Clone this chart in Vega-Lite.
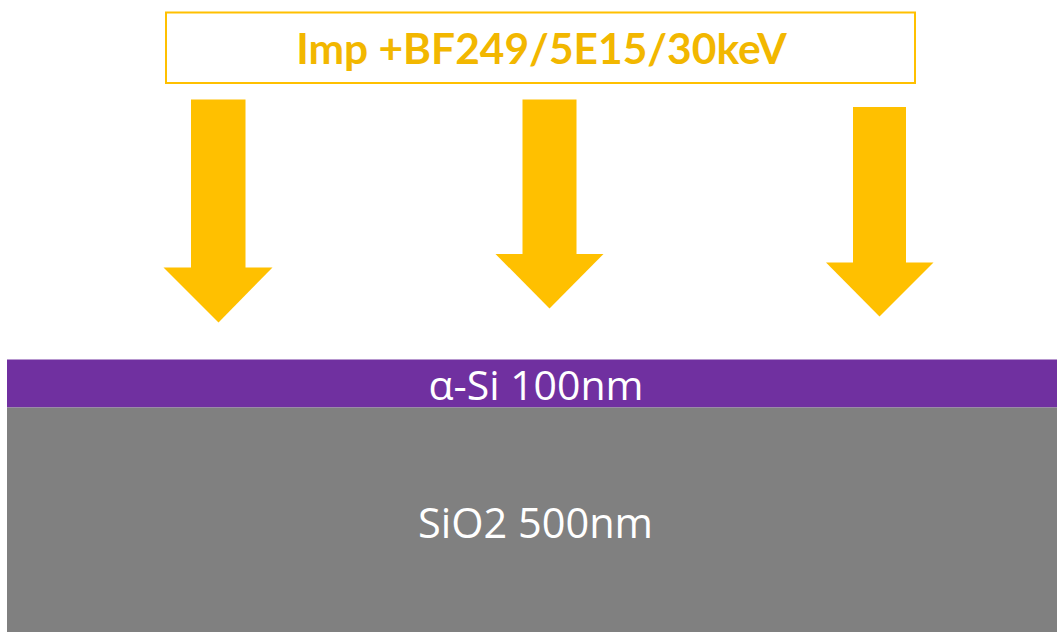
{
  "$schema": "https://vega.github.io/schema/vega-lite/v6.json",
  "width": 1057,
  "height": 632,
  "autosize": {"type": "fit", "contains": "padding"},
  "padding": 0,
  "background": "white",
  "config": {"view": {"stroke": null}},
  "datasets": {
    "layers": [
      {"name": "a-Si", "x": 7, "x2": 1057, "y": 359.5, "y2": 407.5},
      {"name": "SiO2", "x": 7, "x2": 1057, "y": 407.5, "y2": 632}
    ],
    "shafts": [
      {"arrow": "A", "x": 191, "x2": 245.5, "y": 99.5, "y2": 268},
      {"arrow": "B", "x": 522.5, "x2": 576.5, "y": 99.5, "y2": 255},
      {"arrow": "C", "x": 853, "x2": 906, "y": 107, "y2": 263}
    ],
    "heads": [
      {"arrow": "A", "x": 163.5, "y": 267.5, "y2": 267.5},
      {"arrow": "A", "x": 218.5, "y": 322.5, "y2": 267.5},
      {"arrow": "A", "x": 272.5, "y": 267.5, "y2": 267.5},
      {"arrow": "B", "x": 495.5, "y": 254, "y2": 254},
      {"arrow": "B", "x": 549.5, "y": 308.5, "y2": 254},
      {"arrow": "B", "x": 603.5, "y": 254, "y2": 254},
      {"arrow": "C", "x": 826, "y": 262.5, "y2": 262.5},
      {"arrow": "C", "x": 879.5, "y": 316.5, "y2": 262.5},
      {"arrow": "C", "x": 933.5, "y": 262.5, "y2": 262.5}
    ],
    "box": [
      {"label": "Imp +BF249/5E15/30keV", "x": 166, "x2": 915, "y": 12.5, "y2": 83, "tx": 541.5, "ty": 63.5}
    ],
    "labels": [
      {"label": "α-Si 100nm", "x": 536, "y": 400, "kind": "thin"},
      {"label": "SiO2 500nm", "x": 535.5, "y": 537.5, "kind": "thick"}
    ]
  },
  "layer": [
    {
      "data": {"name": "layers"},
      "mark": {"type": "rect"},
      "encoding": {
        "x": {"field": "x", "type": "quantitative", "scale": {"domain": [0, 1057], "nice": false, "zero": false}, "axis": null},
        "x2": {"field": "x2"},
        "y": {"field": "y", "type": "quantitative", "scale": {"domain": [0, 632], "reverse": true, "nice": false, "zero": false}, "axis": null},
        "y2": {"field": "y2"},
        "color": {"field": "name", "type": "nominal", "scale": {"domain": ["a-Si", "SiO2"], "range": ["#7030A0", "#808080"]}, "legend": null}
      }
    },
    {
      "data": {"name": "shafts"},
      "mark": {"type": "rect", "color": "#FFC000"},
      "encoding": {
        "x": {"field": "x", "type": "quantitative"},
        "x2": {"field": "x2"},
        "y": {"field": "y", "type": "quantitative"},
        "y2": {"field": "y2"}
      }
    },
    {
      "data": {"name": "heads"},
      "mark": {"type": "area", "color": "#FFC000", "opacity": 1, "interpolate": "linear"},
      "encoding": {
        "x": {"field": "x", "type": "quantitative"},
        "y": {"field": "y", "type": "quantitative"},
        "y2": {"field": "y2"},
        "detail": {"field": "arrow", "type": "nominal"}
      }
    },
    {
      "data": {"name": "box"},
      "mark": {"type": "rect", "fill": null, "filled": false, "stroke": "#FFC000", "strokeWidth": 2},
      "encoding": {
        "x": {"field": "x", "type": "quantitative"},
        "x2": {"field": "x2"},
        "y": {"field": "y", "type": "quantitative"},
        "y2": {"field": "y2"}
      }
    },
    {
      "data": {"name": "box"},
      "mark": {"type": "text", "font": "Lato", "fontWeight": "bold", "fontSize": 42.5, "color": "#F2B700", "align": "center", "baseline": "alphabetic"},
      "encoding": {
        "x": {"field": "tx", "type": "quantitative"},
        "y": {"field": "ty", "type": "quantitative"},
        "text": {"field": "label"}
      }
    },
    {
      "data": {"name": "labels"},
      "transform": [{"filter": "datum.kind === 'thin'"}],
      "mark": {"type": "text", "font": "Open Sans", "fontSize": 41, "color": "white", "align": "center", "baseline": "alphabetic"},
      "encoding": {
        "x": {"field": "x", "type": "quantitative"},
        "y": {"field": "y", "type": "quantitative"},
        "text": {"field": "label"}
      }
    },
    {
      "data": {"name": "labels"},
      "transform": [{"filter": "datum.kind === 'thick'"}],
      "mark": {"type": "text", "font": "Open Sans", "fontSize": 41.5, "color": "white", "align": "center", "baseline": "alphabetic"},
      "encoding": {
        "x": {"field": "x", "type": "quantitative"},
        "y": {"field": "y", "type": "quantitative"},
        "text": {"field": "label"}
      }
    }
  ]
}
